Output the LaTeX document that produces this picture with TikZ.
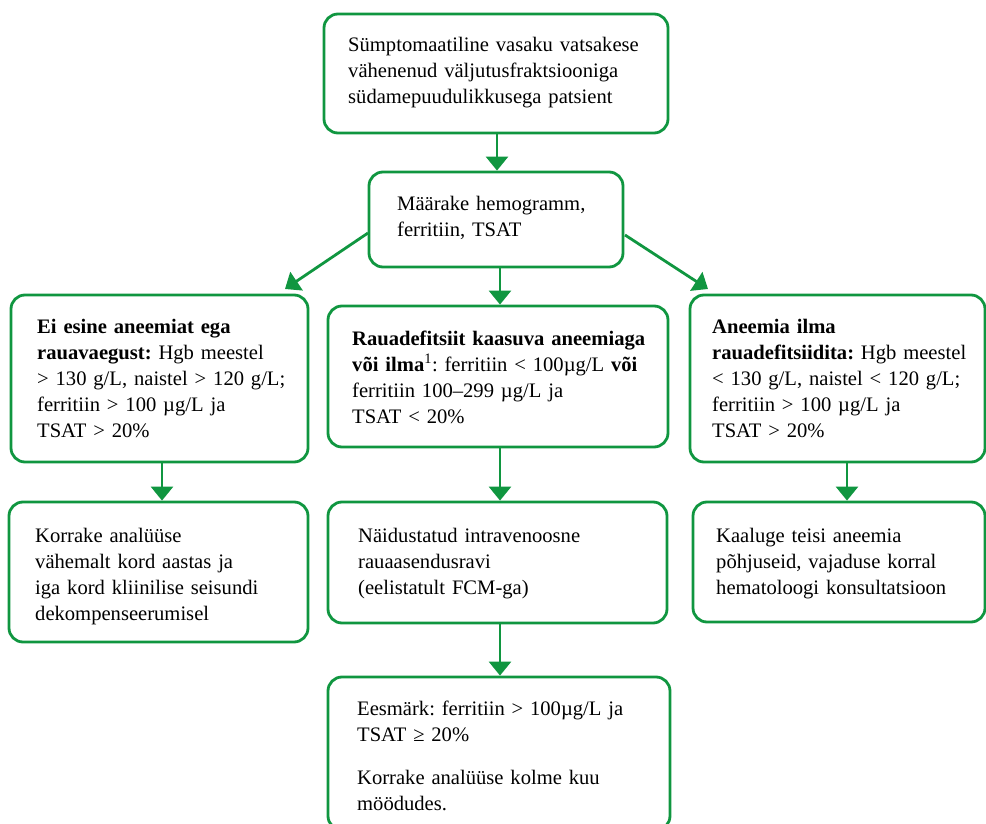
\documentclass[tikz,border=0pt]{standalone}
\usepackage{fontspec}
\setmainfont{Liberation Serif}
\usetikzlibrary{arrows.meta}
\definecolor{grn}{RGB}{16,150,64}
\newcommand\fl{\rule{0pt}{19pt}}
\begin{document}
\frenchspacing
\begin{tikzpicture}[x=1pt,y=-1pt,
  box/.style={draw=grn,line width=2.8pt,rounded corners=14pt,shape=rectangle,inner sep=0pt},
  txt/.style={anchor=north west,inner sep=0pt,text width=360pt,align=left,font=\fontsize{20.6}{26}\selectfont\frenchspacing},
  arr/.style={draw=grn,line width=2.8pt,-{Triangle[width=22pt,length=14pt]}}]
\useasboundingbox (0,0) rectangle (986,824);
\clip (0,0) rectangle (986,824);
% boxes
\node[box,minimum width=344pt,minimum height=119pt] (top) at (496,73.5) {};
\node[box,minimum width=254pt,minimum height=95pt] (mear) at (496,219.5) {};
\node[box,minimum width=297pt,minimum height=167pt] (l2) at (159.5,378.5) {};
\node[box,minimum width=340pt,minimum height=141pt] (m2) at (498,376.5) {};
\node[box,minimum width=295pt,minimum height=167pt] (r2) at (837.5,378.5) {};
\node[box,minimum width=299pt,minimum height=140pt] (l3) at (158.5,572) {};
\node[box,minimum width=339pt,minimum height=121pt] (m3) at (497.5,562.5) {};
\node[box,minimum width=292pt,minimum height=120pt] (r3) at (839,562) {};
\node[box,minimum width=342pt,minimum height=153pt] (goal) at (499,753.5) {};
% texts
\node[txt] (ttop) at (348,32) {\fl Sümptomaatiline vasaku vatsakese\\vähenenud väljutusfraktsiooniga\\südamepuudulikkusega patsient};
\node[txt] (tmear) at (397,191) {\fl Määrake hemogramm,\\ferritiin, TSAT};
\node[txt] (tl2) at (37,314) {\fl\textbf{Ei esine aneemiat ega}\\\textbf{rauavaegust:} Hgb meestel\\> 130 g/L, naistel > 120 g/L;\\ferritiin > 100 µg/L ja\\TSAT > 20\%};
\node[txt] (tm2) at (352,326) {\fl\textbf{Rauadefitsiit kaasuva aneemiaga}\\\textbf{või ilma}\textsuperscript{1}: ferritiin < 100µg/L \textbf{või}\\ferritiin 100–299 µg/L ja\\TSAT < 20\%};
\node[txt] (tr2) at (712,314) {\fl\textbf{Aneemia ilma}\\\textbf{rauadefitsiidita:} Hgb meestel\\< 130 g/L, naistel < 120 g/L;\\ferritiin > 100 µg/L ja\\TSAT > 20\%};
\node[txt] (tl3) at (35,523) {\fl Korrake analüüse\\vähemalt kord aastas ja\\iga kord kliinilise seisundi\\dekompenseerumisel};
\node[txt] (tm3) at (358,523) {\fl Näidustatud intravenoosne\\rauaasendusravi\\(eelistatult FCM-ga)};
\node[txt] (tr3) at (716,523) {\fl Kaaluge teisi aneemia\\põhjuseid, vajaduse korral\\hematoloogi konsultatsioon};
\node[txt] (tgoal) at (357,696) {\fl Eesmärk: ferritiin > 100µg/L ja\\TSAT ≥ 20\%\\[17pt]Korrake analüüse kolme kuu\\möödudes.};
% connectors
\coordinate (dl1) at (368,233);
\coordinate (dl2) at (285,289);
\coordinate (dr1) at (625,235);
\coordinate (dr2) at (708,289);
\draw[arr] (top.south -| 497,0) -- (mear.north -| 497,0);
\draw[arr] (mear.south -| 500,0) -- (m2.north -| 500,0);
\draw[arr] (dl1) -- (dl2);
\draw[arr] (dr1) -- (dr2);
\draw[arr] (l2.south -| 162,0) -- (l3.north -| 162,0);
\draw[arr] (m2.south -| 500,0) -- (m3.north -| 500,0);
\draw[arr] (m3.south -| 500,0) -- (goal.north -| 500,0);
\draw[arr] (r2.south -| 847,0) -- (r3.north -| 847,0);
\end{tikzpicture}
\end{document}
